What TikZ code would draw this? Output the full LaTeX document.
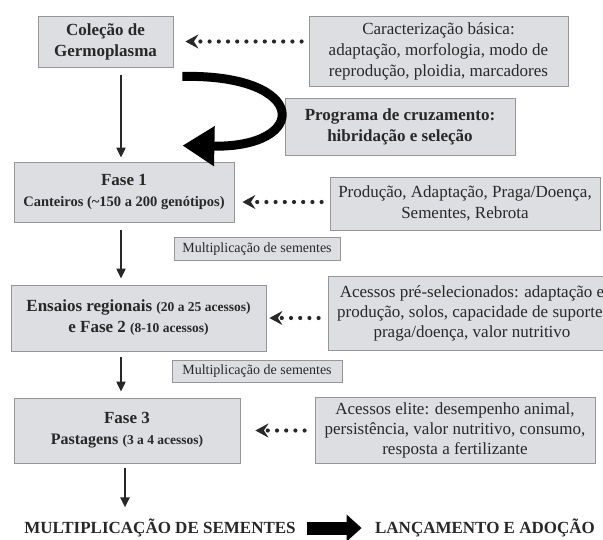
\documentclass[tikz,border=0pt]{standalone}
\usepackage{fontspec}
\setmainfont{Liberation Serif}
\usetikzlibrary{arrows.meta,positioning,calc}
\definecolor{boxfill}{RGB}{221,222,226}
\definecolor{boxline}{RGB}{150,150,153}
\definecolor{ink}{RGB}{40,40,40}
\newcommand{\BigFont}{\fontsize{17}{21}\selectfont}
\newcommand{\MidFont}{\fontsize{14.5}{18}\selectfont}
\newcommand{\ParFont}{\fontsize{13.5}{17}\selectfont}
\newcommand{\NoteFont}{\fontsize{14}{17}\selectfont}
\newcommand{\PicW}{603}
\newcommand{\PicH}{539}

\begin{document}
\begin{tikzpicture}[x=1pt,y=-1pt,
  stagebox/.style={draw=boxline, fill=boxfill, line width=0.8pt, align=center,
    inner sep=0pt, text=ink, font=\BigFont\bfseries},
  infobox/.style={draw=boxline, fill=boxfill, line width=0.8pt, align=center,
    inner sep=0pt, text=ink, font=\BigFont},
  notebox/.style={draw=boxline, fill=boxfill, line width=0.8pt, align=center,
    inner sep=0pt, text=ink, font=\NoteFont},
  flow/.style={-{Triangle[length=10pt,width=9pt]}, line width=2pt, ink},
  feed/.style={-{Stealth[length=13pt,width=14pt,inset=4.5pt]}, line width=4.2pt,
    dash pattern=on 0pt off 9.2pt, line cap=round, ink},
  loopback/.style={-{Triangle[length=32pt,width=38pt]}, line width=9pt, black},
  block/.style={-{Triangle[length=15pt,width=26pt]}, line width=13pt, black},
  final/.style={text=ink, font=\BigFont\bfseries}
]
\useasboundingbox (0,0) rectangle (\PicW,\PicH);

% ----- Stages (left column) -----
\node[stagebox, minimum width=135, minimum height=51] (germo) at (105.5,41.5)
  {Coleção de\\Germoplasma};
\node[stagebox, minimum width=220, minimum height=60] (fase1) at (124,192)
  {Fase 1\\{\MidFont Canteiros (\textasciitilde150 a 200 genótipos)}};
\node[stagebox, minimum width=255, minimum height=66] (ensaios) at (138.5,318)
  {Ensaios regionais {\ParFont(20 a 25 acessos)}\\e Fase 2 {\ParFont(8-10 acessos)}};
\node[stagebox, minimum width=226, minimum height=65] (fase3) at (127,430.5)
  {Fase 3\\{\fontsize{16}{20}\selectfont Pastagens} {\ParFont(3 a 4 acessos)}};

% ----- Criteria (right column) -----
\node[infobox, minimum width=259, minimum height=70] (caract) at (438.5,51)
  {Caracterização básica:\\adaptação, morfologia, modo de\\reprodução, ploidia, marcadores};
\node[stagebox, minimum width=230, minimum height=57] (cruza) at (400,126.5)
  {Programa de cruzamento:\\hibridação e seleção};
\node[infobox, minimum width=270, minimum height=53] (prod) at (465,203.5)
  {Produção, Adaptação, Praga/Doença,\\Sementes, Rebrota};
\node[infobox, minimum width=288, minimum height=74, font=\fontsize{17}{20}\selectfont] (presel) at (472,313)
  {Acessos pré-selecionados: adaptação e\\produção, solos, capacidade de suporte,\\praga/doença, valor nutritivo};
\node[infobox, minimum width=280, minimum height=66, font=\fontsize{17}{20}\selectfont] (elite) at (455,430)
  {Acessos elite: desempenho animal,\\persistência, valor nutritivo, consumo,\\resposta a fertilizante};

% ----- Seed multiplication notes -----
\node[notebox, minimum width=166, minimum height=23] (mult1) at (257,249)
  {Multiplicação de sementes};
\node[notebox, minimum width=170, minimum height=22] (mult2) at (257,371.5)
  {Multiplicação de sementes};

% ----- Outcome -----
\node[final] (multfim) at (160,528) {MULTIPLICAÇÃO DE SEMENTES};
\node[final] (lanca) at (485,528) {LANÇAMENTO E ADOÇÃO};

% ----- Main flow -----
\draw[flow, shorten <=8pt, shorten >=4pt] (germo.south -| fase1.north) ++(-3,0) -- ([xshift=-3pt]fase1.north);
\draw[flow, shorten <=8pt, shorten >=6pt] ([xshift=-3pt]fase1.south) -- ([xshift=-3pt]fase1.south |- ensaios.north);
\draw[flow, shorten <=6pt, shorten >=6pt] ([xshift=-3pt]fase1.south |- ensaios.south) -- ([xshift=-3pt]fase1.south |- fase3.north);
\draw[flow, shorten <=5pt, shorten >=8pt] ([xshift=-2pt]fase3.south) -- ([xshift=-2pt]fase3.south |- multfim.north);

% ----- Crossing programme -----
\coordinate (loopstart) at ([shift={(9,9)}]germo.south east);
\coordinate (loopend) at ([shift={(-52,-16)}]fase1.north east);
\draw[loopback] (loopstart) .. controls (310,74) and (310,148) .. (loopend);

% ----- Criteria feeds -----
\draw[feed, shorten <=7pt, shorten >=12pt] (caract.west |- germo.east) -- (germo.east);
\draw[feed, shorten <=8pt, shorten >=8pt] (prod.west |- 0,202) -- (fase1.east |- 0,202);
\draw[feed, shorten <=9pt, shorten >=3pt] (presel.west |- ensaios.east) -- (ensaios.east);
\draw[feed, shorten <=10pt, shorten >=15pt] (elite.west |- fase3.east) -- (fase3.east);

% ----- Release -----
\draw[block, shorten <=8pt, shorten >=10pt] (multfim.east) -- (lanca.west);

\end{tikzpicture}
\end{document}
